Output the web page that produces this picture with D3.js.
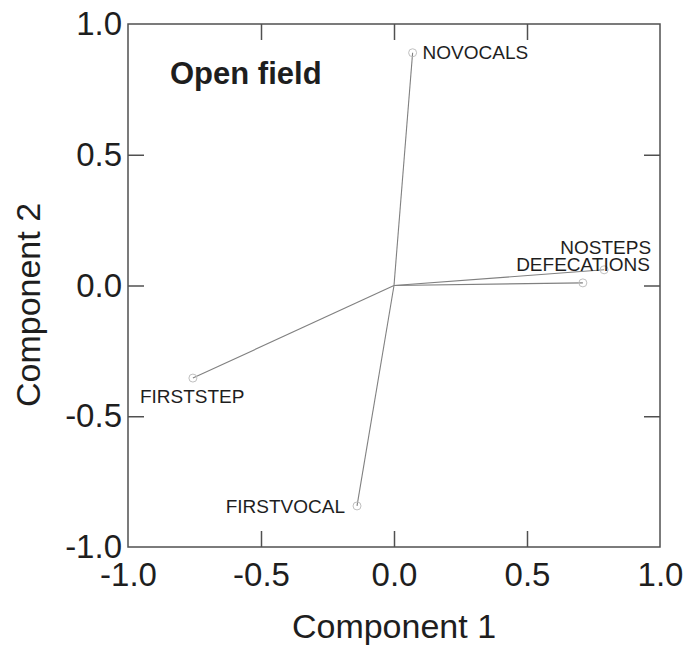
<!DOCTYPE html>
<html>
<head>
<meta charset="utf-8">
<script src="https://cdn.jsdelivr.net/npm/d3@7"></script>
<style>
  body { margin: 0; background: #fff; }
  svg { display: block; }
  text { font-family: "Liberation Sans", Arial, sans-serif; fill: #1e1e1e; }
</style>
</head>
<body>
<svg id="chart" width="683" height="646"></svg>
<script>
// ---- data ----
const variables = ["NOVOCALS", "NOSTEPS", "DEFECATIONS", "FIRSTSTEP", "FIRSTVOCAL"];
const component1 = [0.07, 0.79, 0.71, -0.756, -0.139];
const component2 = [0.89, 0.06, 0.01, -0.354, -0.843];
const tickLabels = [-1.0, -0.5, 0.0, 0.5, 1.0];
const innerTicks = [-0.5, 0.0, 0.5];
const title = "Open field";
const xTitle = "Component 1";
const yTitle = "Component 2";

// ---- layout / style ----
const labelStyle = {
  NOVOCALS:    { dx: 10,  dy: 6,   anchor: "start" },
  NOSTEPS:     { dx: 47,  dy: -16, anchor: "end" },
  DEFECATIONS: { dx: 67,  dy: -12, anchor: "end" },
  FIRSTSTEP:   { dx: -53, dy: 25,  anchor: "start" },
  FIRSTVOCAL:  { dx: -12, dy: 7,   anchor: "end" }
};

const svg = d3.select("#chart");
const x = d3.scaleLinear().domain([-1, 1]).range([128, 660]);
const y = d3.scaleLinear().domain([-1, 1]).range([547, 24]);

const frameColor = "#505050";
const fmt = d => d.toFixed(1);

// frame
svg.append("rect")
  .attr("x", x(-1)).attr("y", y(1))
  .attr("width", x(1) - x(-1)).attr("height", y(-1) - y(1))
  .attr("fill", "none").attr("stroke", frameColor).attr("stroke-width", 1.5);

// axes with labels
const gx = svg.append("g").attr("transform", `translate(0,${y(-1)})`)
  .call(d3.axisBottom(x).tickValues(tickLabels).tickSize(0).tickPadding(16).tickFormat(fmt));
gx.select(".domain").remove();
gx.selectAll("text").attr("font-size", 33).attr("font-family", "Liberation Sans, Arial, sans-serif").attr("fill", "#1e1e1e");

const gy = svg.append("g").attr("transform", `translate(${x(-1)},0)`)
  .call(d3.axisLeft(y).tickValues(tickLabels).tickSize(0).tickPadding(6).tickFormat(fmt));
gy.select(".domain").remove();
gy.selectAll("text").attr("font-size", 33).attr("font-family", "Liberation Sans, Arial, sans-serif").attr("fill", "#1e1e1e");

// inner ticks on all four sides
function tickAxis(axis, tx, ty) {
  const g = svg.append("g").attr("transform", `translate(${tx},${ty})`)
    .call(axis.tickValues(innerTicks).tickSize(-16).tickFormat(""));
  g.select(".domain").remove();
  g.selectAll("line").attr("stroke", frameColor).attr("stroke-width", 1.5);
}
tickAxis(d3.axisBottom(x), 0, y(-1));
tickAxis(d3.axisTop(x), 0, y(1));
tickAxis(d3.axisLeft(y), x(-1), 0);
tickAxis(d3.axisRight(y), x(1), 0);

// vectors
const pts = variables.map((v, i) => ({ name: v, c1: component1[i], c2: component2[i] }));

svg.append("g").selectAll("line").data(pts).join("line")
  .attr("x1", x(0)).attr("y1", y(0))
  .attr("x2", d => x(d.c1)).attr("y2", d => y(d.c2))
  .attr("stroke", "#808080").attr("stroke-width", 1.1);

svg.append("g").selectAll("circle").data(pts).join("circle")
  .attr("cx", d => x(d.c1)).attr("cy", d => y(d.c2)).attr("r", 4)
  .attr("fill", "none").attr("stroke", "#c0c0c0").attr("stroke-width", 1);

svg.append("g").selectAll("text").data(pts).join("text")
  .attr("x", d => x(d.c1) + labelStyle[d.name].dx)
  .attr("y", d => y(d.c2) + labelStyle[d.name].dy)
  .attr("text-anchor", d => labelStyle[d.name].anchor)
  .attr("font-size", 19)
  .text(d => d.name);

// title
svg.append("text").attr("x", 170).attr("y", 84)
  .attr("font-size", 31).attr("font-weight", "bold").text(title);

// axis titles
svg.append("text").attr("x", 394).attr("y", 638)
  .attr("text-anchor", "middle").attr("font-size", 34).text(xTitle);

svg.append("text").attr("transform", "translate(40,305) rotate(-90)")
  .attr("text-anchor", "middle").attr("font-size", 34).text(yTitle);
</script>
</body>
</html>
